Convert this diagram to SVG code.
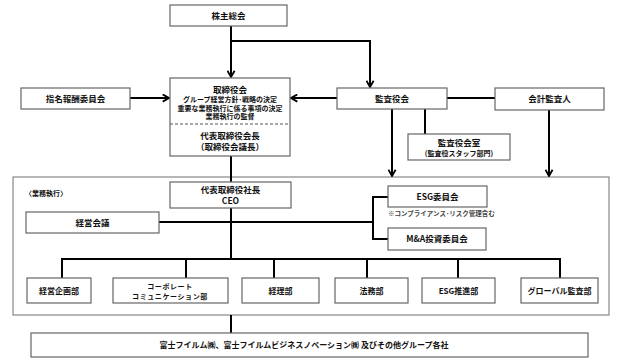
<svg xmlns="http://www.w3.org/2000/svg" width="631" height="364" viewBox="0 0 631 364">
<style>
.box{fill:#fff;stroke:#666;stroke-width:1.2}
.ln{fill:none;stroke:#000;stroke-width:2}
.t{font-family:"Noto Sans CJK JP","Noto Sans",sans-serif;font-weight:bold;fill:#111;text-anchor:middle}
.m{font-size:8.5px}
.d{font-size:8px}
.s{font-size:7px}
.xs{font-size:6.5px}
</style>
<defs>
<marker id="ah" markerUnits="userSpaceOnUse" viewBox="0 0 10 10" refX="8.5" refY="5" markerWidth="9" markerHeight="9" orient="auto">
<path d="M1.5,1 L8.5,5 L1.5,9" fill="none" stroke="#000" stroke-width="2"/>
</marker>
</defs>
<rect x="13" y="177" width="596" height="138" fill="#fff" stroke="#888" stroke-width="1.2"/>
<g id="connectors">
<path class="ln" d="M231,26 V77" marker-end="url(#ah)"/>
<path class="ln" d="M231,41 H370 V87" marker-end="url(#ah)"/>
<path class="ln" d="M130,98 H169" marker-end="url(#ah)"/>
<path class="ln" d="M337,98 H291" marker-end="url(#ah)"/>
<path class="ln" d="M447,98 H495"/>
<path class="ln" d="M392,109 V176" marker-end="url(#ah)"/>
<path class="ln" d="M425,109 V134"/>
<path class="ln" d="M549,110 V176" marker-end="url(#ah)"/>
<path class="ln" d="M231,156 V182"/>
<path class="ln" d="M231,208 V259"/>
<path class="ln" d="M159,222 H373"/>
<path class="ln" d="M388,197 H373 V239 H388"/>
<path class="ln" d="M62,278 V259 H560 V278"/>
<path class="ln" d="M186,259 V278 M274,259 V278 M367,259 V278 M458,259 V278"/>
<path class="ln" d="M231,315 V333"/>
</g>
<g id="kabunushi"><rect class="box" x="170" y="5" width="117" height="21"/><text class="t m" x="228.5" y="19">株主総会</text></g>
<g id="torishimariyakukai"><rect class="box" x="170" y="78" width="120" height="78"/>
<line x1="170" y1="124" x2="290" y2="124" stroke="#555" stroke-width="1" stroke-dasharray="3,2"/>
<text class="t m" x="230" y="93">取締役会</text>
<text class="t s" x="230" y="102">グループ経営方針･戦略の決定</text>
<text class="t s" x="230" y="110.5">重要な業務執行に係る事項の決定</text>
<text class="t s" x="230" y="119">業務執行の監督</text>
<text class="t m" x="230" y="139">代表取締役会長</text>
<text class="t m" x="230" y="150">（取締役会議長）</text></g>
<g id="shimei"><rect class="box" x="21" y="88" width="109" height="21"/><text class="t m" x="75.5" y="101.5">指名報酬委員会</text></g>
<g id="kansayakukai"><rect class="box" x="337" y="88" width="110" height="21"/><text class="t m" x="392" y="101.5">監査役会</text></g>
<g id="kaikei"><rect class="box" x="495" y="88" width="109" height="22"/><text class="t m" x="549.5" y="102">会計監査人</text></g>
<g id="kansashitsu"><rect class="box" x="408" y="134" width="102" height="26"/><text class="t m" x="459" y="145.5">監査役会室</text><text class="t s" x="459" y="155.5">(監査役スタッフ部門)</text></g>
<g id="label"><rect x="16" y="183" width="61" height="19" fill="#fff"/><text class="t s" x="46" y="196">〈業務執行〉</text></g>
<g id="ceo"><rect class="box" x="170" y="182" width="121" height="26"/><text class="t m" x="230.5" y="193">代表取締役社長</text><text class="t m" x="230.5" y="203.5">CEO</text></g>
<g id="keieikaigi"><rect class="box" x="26" y="212" width="133" height="21"/><text class="t m" x="92.5" y="225.5">経営会議</text></g>
<g id="esg"><rect class="box" x="388" y="186" width="99" height="21"/><text class="t m" x="437.5" y="199.5">ESG委員会</text>
<text class="t xs" x="388" y="216" style="text-anchor:start;fill:#444">※コンプライアンス･リスク管理含む</text></g>
<g id="ma"><rect class="box" x="388" y="228" width="98" height="22"/><text class="t m" x="437" y="242">M&amp;A投資委員会</text></g>
<g id="d1"><rect class="box" x="27" y="278" width="64" height="25"/><text class="t d" x="59" y="293.5">経営企画部</text></g>
<g id="d2"><rect class="box" x="113" y="278" width="115" height="25"/><text class="t s" x="170" y="288.5" letter-spacing="0.6">コーポレート</text><text class="t s" x="170" y="298.5" letter-spacing="0.6">コミュニケーション部</text></g>
<g id="d3"><rect class="box" x="242" y="278" width="77" height="25"/><text class="t d" x="280.5" y="293.5">経理部</text></g>
<g id="d4"><rect class="box" x="335" y="278" width="73" height="25"/><text class="t d" x="371.5" y="293.5">法務部</text></g>
<g id="d5"><rect class="box" x="422" y="278" width="73" height="25"/><text class="t d" x="458.5" y="293.5">ESG推進部</text></g>
<g id="d6"><rect class="box" x="521" y="278" width="77" height="25"/><text class="t d" x="559.5" y="293.5">グローバル監査部</text></g>
<g id="group"><rect class="box" x="31" y="333" width="557" height="24"/><text class="t d" x="304" y="348">富士フイルム㈱、富士フイルムビジネスノベーション㈱ 及びその他グループ各社</text></g>
</svg>
